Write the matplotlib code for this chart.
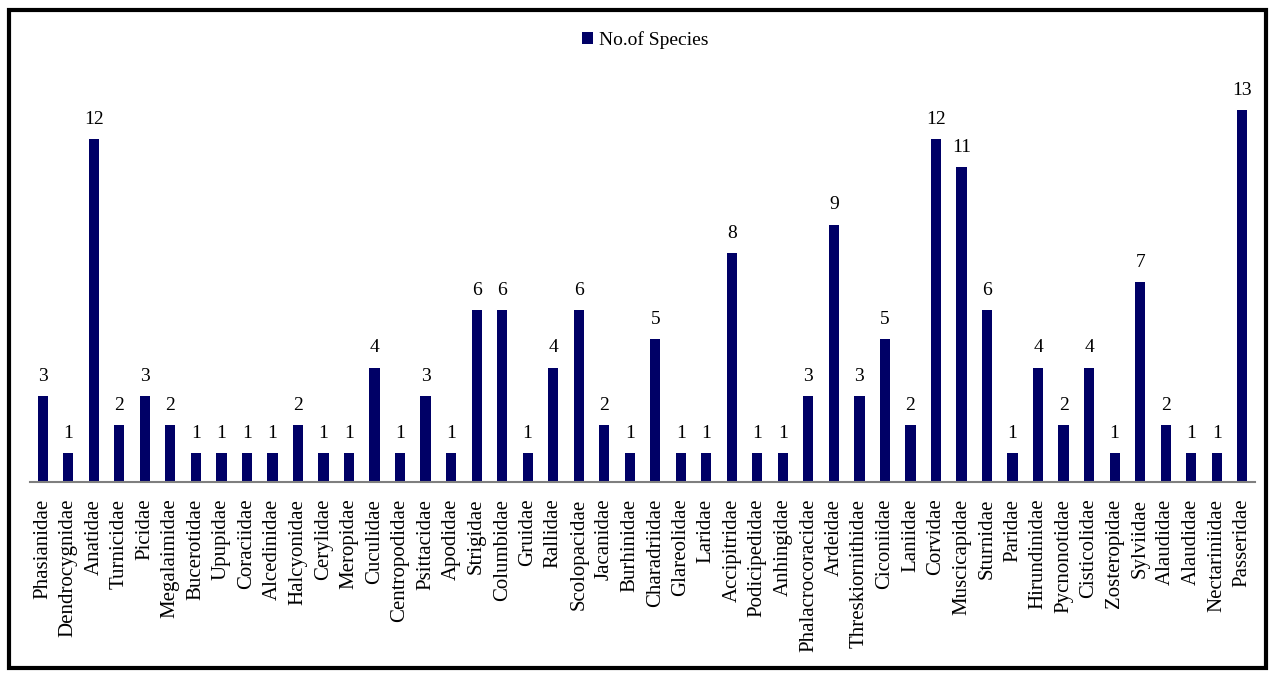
import matplotlib.pyplot as plt
from matplotlib.patches import Rectangle

families = ['Phasianidae', 'Dendrocygnidae', 'Anatidae', 'Turnicidae', 'Picidae',
            'Megalaimidae', 'Bucerotidae', 'Upupidae', 'Coraciidae', 'Alcedinidae',
            'Halcyonidae', 'Cerylidae', 'Meropidae', 'Cuculidae', 'Centropodidae',
            'Psittacidae', 'Apodidae', 'Strigidae', 'Columbidae', 'Gruidae',
            'Rallidae', 'Scolopacidae', 'Jacanidae', 'Burhinidae', 'Charadriidae',
            'Glareolidae', 'Laridae', 'Accipitridae', 'Podicipedidae', 'Anhingidae',
            'Phalacrocoracidae', 'Ardeidae', 'Threskiornithidae', 'Ciconiidae', 'Laniidae',
            'Corvidae', 'Muscicapidae', 'Sturnidae', 'Paridae', 'Hirundinidae',
            'Pycnonotidae', 'Cisticolidae', 'Zosteropidae', 'Sylviidae', 'Alaudidae',
            'Alaudidae', 'Nectariniidae', 'Passeridae']
species = [3, 1, 12, 2, 3, 2, 1, 1, 1, 1,
           2, 1, 1, 4, 1, 3, 1, 6, 6, 1,
           4, 6, 2, 1, 5, 1, 1, 8, 1, 1,
           3, 9, 3, 5, 2, 12, 11, 6, 1, 4,
           2, 4, 1, 7, 2, 1, 1, 13]

plt.rcParams['font.family'] = ['Liberation Serif', 'DejaVu Serif']

fig = plt.figure(figsize=(12.73, 6.73), dpi=100)
ax = fig.add_axes([30 / 1273, 1 - 482 / 673, 1225 / 1273, 412 / 673])

x = list(range(len(families)))
bars = ax.bar(x, species, width=0.4, color='#000066', label='No.of Species')
ax.bar_label(bars, padding=8, fontsize=14)

ax.set_xlim(-0.5, len(families) - 0.5)
ax.set_ylim(0, 14.4)
ax.set_xticks(x)
ax.set_xticklabels(families, rotation=90, fontsize=15)
ax.tick_params(axis='x', length=0, pad=12)
ax.set_yticks([])
for side in ['top', 'left', 'right']:
    ax.spines[side].set_visible(False)
ax.spines['bottom'].set_color('#7f7f7f')
ax.spines['bottom'].set_linewidth(1.5)

fig.legend(loc='center', bbox_to_anchor=(645 / 1273, 1 - 40 / 673), frameon=False,
           fontsize=14, handlelength=0.6, handleheight=0.6, handletextpad=0.3)

# frame round the whole chart
fig.patches.append(Rectangle((9 / 1273, 5 / 673), 1257 / 1273, 1 - 15 / 673,
                             transform=fig.transFigure, fill=False,
                             edgecolor='black', linewidth=3))

fig.savefig('out.png', dpi=100)
